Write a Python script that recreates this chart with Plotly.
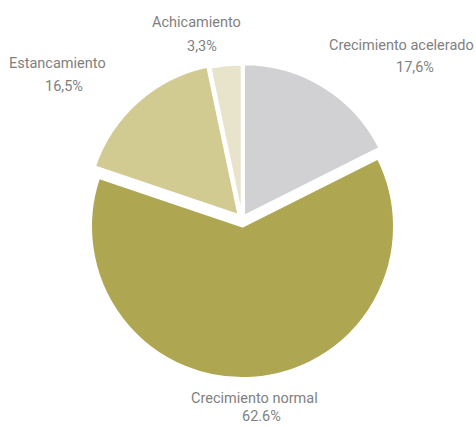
import plotly.graph_objects as go

categories = ["Crecimiento acelerado", "Crecimiento normal", "Estancamiento", "Achicamiento"]
values = [17.6, 62.6, 16.5, 3.3]
value_labels = ["17,6%", "62.6%", "16,5%", "3,3%"]

colors = ["#d1d1d3", "#afa652", "#d1ca91", "#e8e3cb"]
pulls = [0.025, 0.05, 0.035, 0.02]

W, H = 476, 427
label_font = dict(family="Roboto, sans-serif", size=14.5, color="#7f7f7f")

fig = go.Figure(go.Pie(
    labels=categories,
    values=values,
    textinfo="none",
    sort=False,
    direction="clockwise",
    rotation=0,
    pull=pulls,
    marker=dict(colors=colors, line=dict(color="white", width=2)),
    showlegend=False,
    hoverinfo="label+percent",
    domain=dict(x=[0.1742, 0.8426], y=[0.1145, 0.8597]),
))

# label placement in pixels: (name x, name y, value x, value y)
label_px = [
    (401, 45, 415, 68),
    (254, 398, 261, 416),
    (57, 64, 64, 86),
    (196, 23, 202, 46),
]
for c, v, (nx, ny, vx, vy) in zip(categories, value_labels, label_px):
    fig.add_annotation(x=nx / W, y=1 - ny / H, xref="paper", yref="paper",
                       text=c, showarrow=False, font=label_font,
                       xanchor="center", yanchor="middle", borderpad=0)
    fig.add_annotation(x=vx / W, y=1 - vy / H, xref="paper", yref="paper",
                       text=v, showarrow=False, font=label_font,
                       xanchor="center", yanchor="middle", borderpad=0)

fig.update_layout(
    width=W, height=H,
    margin=dict(l=0, r=0, t=0, b=0),
    paper_bgcolor="white",
    plot_bgcolor="white",
    showlegend=False,
)

fig.write_html(
    "out.html",
    config={"displayModeBar": False},
    post_script="document.body.style.margin='0';document.body.style.overflow='hidden';",
)
